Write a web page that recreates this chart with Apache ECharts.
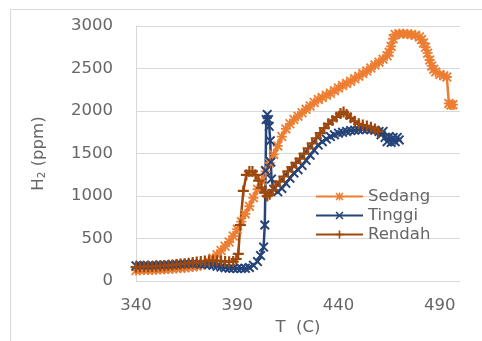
<!DOCTYPE html>
<html>
<head>
<meta charset="utf-8">
<script src="https://cdn.jsdelivr.net/npm/echarts@6/dist/echarts.min.js"></script>
<style>
  html, body { margin: 0; padding: 0; background: #fff; }
  #chart { width: 482px; height: 341px; }
</style>
</head>
<body>
<div id="chart"></div>
<script>
// Sedang
const sedangT = [340,342,344,346,348,350,352,354,356,358,360,362,364,366,368,370,372,374,376,378,380,382,384,386,388,390,392,394,396,398,400,402,404,406,408,410,412,414,416,418,420,422,424,426,428,430,432,434,436,438,440,442,444,446,448,450,452,454,456,458,460,462,464,465,466,467,468,470,472,474,476,478,480,481,482,483,484,485,486,487,488,490,492,493.5,494.5,495.5,496.5];
const sedangV = [125,128,130,130,132,135,137,140,142,145,150,153,158,163,168,175,185,200,230,270,310,360,410,460,530,610,700,790,880,980,1080,1180,1290,1390,1490,1590,1700,1790,1850,1900,1940,1980,2020,2060,2100,2135,2160,2185,2210,2240,2270,2300,2325,2350,2380,2410,2440,2470,2505,2540,2575,2610,2650,2690,2760,2850,2900,2910,2910,2905,2900,2890,2870,2840,2800,2750,2680,2600,2530,2490,2460,2430,2415,2400,2090,2070,2075];
// Tinggi
const tinggiT = [340,342,344,346,348,350,352,354,356,358,360,362,364,366,368,370,372,374,376,378,380,382,384,386,388,390,392,394,396,398,400,401.5,403,403.6,404,404.3,404.8,405.4,405.8,406.3,406.6,406.9,408,410,412,414,416,418,420,422,424,426,428,430,432,434,436,438,440,442,444,446,448,450,452,454,456,458,460,461,462,463,464,465,466,467,468,469,470];
const tinggiV = [180,185,185,180,185,185,190,190,190,195,195,200,200,205,205,205,200,200,195,185,175,165,158,152,150,148,148,150,160,185,230,300,400,660,1300,1900,1960,1900,1820,1650,1400,1200,1080,1050,1090,1150,1210,1270,1310,1360,1420,1480,1540,1600,1640,1670,1700,1720,1740,1750,1760,1770,1775,1780,1785,1785,1780,1775,1760,1720,1760,1690,1640,1700,1630,1690,1640,1690,1660];
// Rendah
const rendahT = [340,342,344,346,348,350,352,354,356,358,360,362,364,366,368,370,372,374,376,378,380,382,384,386,388,389.5,390.5,391.5,393,394.5,396,397.5,399,400.5,402,403.5,404.8,406,407.5,409,411,413,415,417,419,421,423,425,427,429,431,433,435,437,439,441,442.5,444,446,448,450,452,454,456,458,459.5];
const rendahV = [165,168,170,170,172,175,178,180,185,190,195,200,205,210,220,225,230,235,240,240,238,235,230,228,230,260,320,660,1060,1250,1290,1290,1250,1180,1100,1040,1000,1020,1070,1120,1170,1230,1290,1340,1390,1440,1500,1560,1620,1680,1740,1800,1850,1890,1930,1970,1990,1960,1920,1880,1850,1835,1825,1810,1790,1760];

const seriesNames = ['Sedang', 'Tinggi', 'Rendah'];
const xTicks = [340, 390, 440, 490];

const FONT = '"DejaVu Sans", Verdana, sans-serif';
const TXT = '#666666';
const GRID = '#d9d9d9';

const starPath = 'path://M4.1,0H5.9V10H4.1Z M0,4.1H10V5.9H0Z M1.3,0L10,8.7L8.7,10L0,1.3Z M8.7,0L10,1.3L1.3,10L0,8.7Z';
const crossPath = 'path://M1.4,0L5,3.6L8.6,0L10,1.4L6.4,5L10,8.6L8.6,10L5,6.4L1.4,10L0,8.6L3.6,5L0,1.4Z';
const plusPath = 'path://M4,0H6V4H10V6H6V10H4V6H0V4H4Z';

function pairs(ts, vs) {
  return ts.map((t, i) => [t, vs[i]]);
}

function makeSeries(name, color, symbol, size, data) {
  return {
    name: name,
    type: 'line',
    data: data,
    symbol: symbol,
    symbolSize: size,
    showSymbol: true,
    showAllSymbol: true,
    color: color,
    lineStyle: { color: color, width: 2.5 },
    itemStyle: { color: color },
    emphasis: { disabled: true }
  };
}

const chart = echarts.init(document.getElementById('chart'));
chart.setOption({
  animation: false,
  textStyle: { fontFamily: FONT },
  graphic: [{
    type: 'rect',
    shape: { x: 10.5, y: 9.5, width: 600, height: 400 },
    style: { fill: 'none', stroke: GRID, lineWidth: 1 },
    silent: true
  }],
  grid: { left: 136, right: 22, top: 26, bottom: 53 },
  legend: {
    data: seriesNames,
    orient: 'vertical',
    left: 310,
    top: 183,
    itemWidth: 47,
    itemHeight: 10,
    itemGap: 2,
    textStyle: { color: TXT, fontSize: 16.5, fontFamily: FONT }
  },
  xAxis: {
    type: 'value',
    min: 340,
    max: 500,
    interval: 50,
    name: 'T  (C)',
    nameLocation: 'middle',
    nameGap: 37,
    nameTextStyle: { color: TXT, fontSize: 16.5, fontFamily: FONT },
    axisLine: { show: true, lineStyle: { color: GRID, width: 1 } },
    axisTick: { show: false },
    splitLine: { show: false },
    axisLabel: {
      color: TXT,
      fontSize: 16.5,
      fontFamily: FONT,
      margin: 16,
      showMaxLabel: false,
      formatter: v => (xTicks.indexOf(v) >= 0 ? String(v) : '')
    }
  },
  yAxis: {
    type: 'value',
    min: 0,
    max: 3000,
    interval: 500,
    name: 'H{s|2} (ppm)',
    nameLocation: 'middle',
    nameRotate: 90,
    nameGap: 88,
    nameTextStyle: {
      color: TXT,
      fontSize: 16.5,
      fontFamily: FONT,
      rich: {
        s: { fontSize: 10.5, color: TXT, fontFamily: FONT, padding: [7, 0, 0, 0] }
      }
    },
    axisLine: { show: true, lineStyle: { color: GRID, width: 1 } },
    axisTick: { show: false },
    splitLine: { show: true, lineStyle: { color: GRID, width: 1 } },
    axisLabel: {
      color: TXT,
      fontSize: 16.5,
      fontFamily: FONT,
      margin: 23,
      formatter: v => String(v)
    }
  },
  series: [
    makeSeries('Sedang', '#ED7D31', starPath, 10, pairs(sedangT, sedangV)),
    makeSeries('Tinggi', '#264478', crossPath, 10, pairs(tinggiT, tinggiV)),
    makeSeries('Rendah', '#9E480E', plusPath, 11, pairs(rendahT, rendahV))
  ]
});
</script>
</body>
</html>
